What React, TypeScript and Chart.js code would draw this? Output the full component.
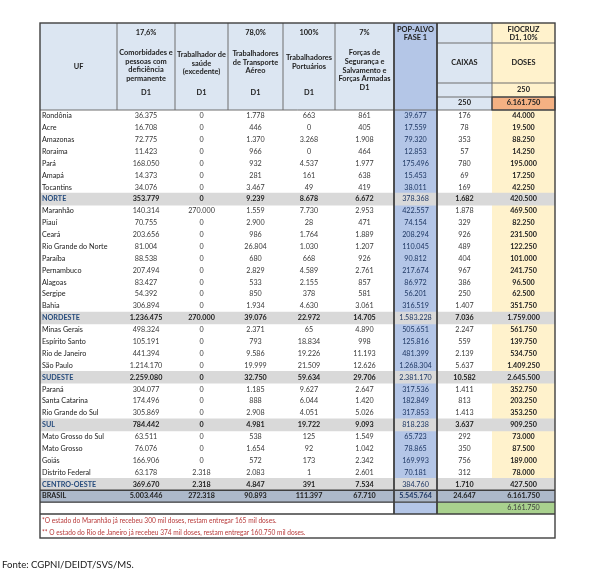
import React, { useEffect, useRef } from 'react';
import { Chart, registerables } from 'chart.js';

Chart.register(...registerables);

// ---------- DATA ----------
const ufLabels = [
  'Rondônia', 'Acre', 'Amazonas', 'Roraima', 'Pará', 'Amapá', 'Tocantins', 'NORTE',
  'Maranhão', 'Piauí', 'Ceará', 'Rio Grande do Norte', 'Paraíba', 'Pernambuco', 'Alagoas', 'Sergipe', 'Bahia', 'NORDESTE',
  'Minas Gerais', 'Espírito Santo', 'Rio de Janeiro', 'São Paulo', 'SUDESTE',
  'Paraná', 'Santa Catarina', 'Rio Grande do Sul', 'SUL',
  'Mato Grosso do Sul', 'Mato Grosso', 'Goiás', 'Distrito Federal', 'CENTRO-OESTE',
  'BRASIL',
];
const comorbidades = [
  36375, 16708, 72775, 11423, 168050, 14373, 34076, 353779,
  140314, 70755, 203656, 81004, 88538, 207494, 83427, 54392, 306894, 1236475,
  498324, 105191, 441394, 1214170, 2259080,
  304077, 174496, 305869, 784442,
  63511, 76076, 166906, 63178, 369670,
  5003446,
];
const trabSaude = [
  0, 0, 0, 0, 0, 0, 0, 0,
  270000, 0, 0, 0, 0, 0, 0, 0, 0, 270000,
  0, 0, 0, 0, 0,
  0, 0, 0, 0,
  0, 0, 0, 2318, 2318,
  272318,
];
const transpAereo = [
  1778, 446, 1370, 966, 932, 281, 3467, 9239,
  1559, 2900, 986, 26804, 680, 2829, 533, 850, 1934, 39076,
  2371, 793, 9586, 19999, 32750,
  1185, 888, 2908, 4981,
  538, 1654, 572, 2083, 4847,
  90893,
];
const portuarios = [
  663, 0, 3268, 0, 4537, 161, 49, 8678,
  7730, 28, 1764, 1030, 668, 4589, 2155, 378, 4630, 22972,
  65, 18834, 19226, 21509, 59634,
  9627, 6044, 4051, 19722,
  125, 92, 173, 1, 391,
  111397,
];
const forcas = [
  861, 405, 1908, 464, 1977, 638, 419, 6672,
  2953, 471, 1889, 1207, 926, 2761, 857, 581, 3061, 14705,
  4890, 998, 11193, 12626, 29706,
  2647, 1420, 5026, 9093,
  1549, 1042, 2342, 2601, 7534,
  67710,
];
const popAlvo = [
  39677, 17559, 79320, 12853, 175496, 15453, 38011, 378368,
  422557, 74154, 208294, 110045, 90812, 217674, 86972, 56201, 316519, 1583228,
  505651, 125816, 481399, 1268304, 2381170,
  317536, 182849, 317853, 818238,
  65723, 78865, 169993, 70181, 384760,
  5545764,
];
const caixas = [
  176, 78, 353, 57, 780, 69, 169, 1682,
  1878, 329, 926, 489, 404, 967, 386, 250, 1407, 7036,
  2247, 559, 2139, 5637, 10582,
  1411, 813, 1413, 3637,
  292, 350, 756, 312, 1710,
  24647,
];
const doses = [
  44000, 19500, 88250, 14250, 195000, 17250, 42250, 420500,
  469500, 82250, 231500, 122250, 101000, 241750, 96500, 62500, 351750, 1759000,
  561750, 139750, 534750, 1409250, 2645500,
  352750, 203250, 353250, 909250,
  73000, 87500, 189000, 78000, 427500,
  6161750,
];
const regionRows = ['NORTE', 'NORDESTE', 'SUDESTE', 'SUL', 'CENTRO-OESTE'];
const totalRow = 'BRASIL';
const totalDosesCheck = 6161750;
const dosesPerBox = 250;
const headerTotalDoses = 6161750;

const colPercents = ['', '17,6%', '', '78,0%', '100%', '7%'];
const colTitles = [
  ['UF'],
  ['Comorbidades e', 'pessoas com', 'deficiência', 'permanente'],
  ['Trabalhador de', 'saúde', '(excedente)'],
  ['Trabalhadores', 'de Transporte', 'Aéreo'],
  ['Trabalhadores', 'Portuários'],
  ['Forças de', 'Segurança e', 'Salvamento e', 'Forças Armadas'],
];
const doseLabel = 'D1';
const popTitle = ['POP-ALVO', 'FASE 1'];
const fiocruzTitle = ['FIOCRUZ', 'D1, 10%'];
const caixasTitle = 'CAIXAS';
const dosesTitle = 'DOSES';
const notes = [
  '*O estado do Maranhão já recebeu 300 mil doses, restam entregar 165 mil doses.',
  '** O estado do Rio de Janeiro já recebeu 374 mil doses, restam entregar 160.750 mil doses.',
];
const sourceText = 'Fonte: CGPNI/DEIDT/SVS/MS.';

// ---------- LAYOUT / STYLE ----------
const COL_W = [77, 58, 53, 55, 52, 59, 43, 55, 63];
const TOTAL_W = COL_W.reduce((a, b) => a + b, 0);
const COL_EDGES = COL_W.reduce((acc, w) => { acc.push(acc[acc.length - 1] + w); return acc; }, [0] as number[]);
const HEADER_H = 87;
const FONT = 'Lato, "DejaVu Sans", sans-serif';
const C = {
  hdrBlue: '#dce6f2',
  pop: '#b4c6e7',
  cream: '#fff2cc',
  orange: '#f4b183',
  green: '#a9d18e',
  gray: '#d9d9d9',
  brasil: '#adb9ca',
  text: '#3a3a3a',
  dark: '#222222',
  popText: '#1f3864',
  region: '#264b7c',
  note: '#b83a3a',
  border: '#3f3f3f',
  thin: '#6e6e6e',
};

const fmt = (n: number) => String(n).replace(/\B(?=(\d{3})+(?!\d))/g, '.');

const rowLabels = [...ufLabels, ''];
const NROWS = rowLabels.length;

function txt(ctx: CanvasRenderingContext2D, s: string, x: number, y: number, font: string, color: string, align: CanvasTextAlign = 'center') {
  ctx.font = font;
  ctx.fillStyle = color;
  ctx.textAlign = align;
  ctx.textBaseline = 'middle';
  ctx.fillText(s, x, y);
}
function hline(ctx: CanvasRenderingContext2D, x1: number, x2: number, y: number, color: string, w: number) {
  ctx.strokeStyle = color; ctx.lineWidth = w;
  ctx.beginPath(); ctx.moveTo(x1, y); ctx.lineTo(x2, y); ctx.stroke();
}
function vline(ctx: CanvasRenderingContext2D, x: number, y1: number, y2: number, color: string, w: number) {
  ctx.strokeStyle = color; ctx.lineWidth = w;
  ctx.beginPath(); ctx.moveTo(x, y1); ctx.lineTo(x, y2); ctx.stroke();
}

const tablePlugin = {
  id: 'tablePlugin',
  beforeDatasetsDraw(chart: any) {
    const ctx: CanvasRenderingContext2D = chart.ctx;
    const xs = chart.scales.x;
    const { top, bottom } = chart.chartArea;
    const E = COL_EDGES.map((e) => xs.getPixelForValue(e));
    const hTop = top - HEADER_H;
    ctx.save();
    ctx.fillStyle = C.hdrBlue;
    ctx.fillRect(E[0], hTop, E[8] - E[0], HEADER_H);
    ctx.fillStyle = C.cream;
    ctx.fillRect(E[8], hTop, E[9] - E[8], HEADER_H);
    ctx.fillStyle = C.orange;
    ctx.fillRect(E[8], hTop + 74, E[9] - E[8], HEADER_H - 74);
    ctx.fillStyle = C.pop;
    ctx.fillRect(E[6], hTop, E[7] - E[6], bottom - hTop);
    ctx.fillStyle = C.cream;
    ctx.fillRect(E[8], top, E[9] - E[8], bottom - top);
    ctx.restore();
  },
  afterDatasetsDraw(chart: any) {
    const ctx: CanvasRenderingContext2D = chart.ctx;
    const xs = chart.scales.x;
    const ys = chart.scales.y;
    const { top, bottom } = chart.chartArea;
    const E = COL_EDGES.map((e) => xs.getPixelForValue(e));
    const mid = (i: number) => (E[i] + E[i + 1]) / 2;
    const hTop = top - HEADER_H;
    ctx.save();

    // ---- header lines ----
    for (let i = 1; i < 9; i++) {
      if (i === 6 || i === 7) continue;
      vline(ctx, E[i], hTop, top, C.thin, 1);
    }
    hline(ctx, E[7], E[9], hTop + 20, C.thin, 1);
    hline(ctx, E[7], E[9], hTop + 60, C.thin, 1);
    hline(ctx, E[7], E[9], hTop + 74, C.thin, 1);
    hline(ctx, E[0], E[9], top, C.thin, 1);
    ctx.strokeStyle = C.border; ctx.lineWidth = 1.2;
    ctx.strokeRect(E[8], hTop + 74, E[9] - E[8], HEADER_H - 74);

    // ---- header text ----
    const hb = `bold 7.4px ${FONT}`;
    txt(ctx, colTitles[0][0], mid(0), hTop + 44, hb, C.dark);
    const titleY: number[][] = [[], [30, 38.5, 47, 55.5], [32, 40.5, 49], [31, 39.5, 48], [35, 44], [30, 39, 47.5, 56]];
    for (let c = 1; c <= 5; c++) {
      if (colPercents[c]) txt(ctx, colPercents[c], mid(c), hTop + 10, hb, C.dark);
      colTitles[c].forEach((t, k) => txt(ctx, t, mid(c), hTop + titleY[c][k], hb, C.dark));
      txt(ctx, doseLabel, mid(c), hTop + (c === 5 ? 64.5 : 70), hb, C.dark);
    }
    txt(ctx, popTitle[0], mid(6), hTop + 6.5, hb, C.dark);
    txt(ctx, popTitle[1], mid(6), hTop + 14.5, hb, C.dark);
    txt(ctx, fiocruzTitle[0], mid(8), hTop + 6.5, hb, C.dark);
    txt(ctx, fiocruzTitle[1], mid(8), hTop + 14.5, hb, C.dark);
    txt(ctx, caixasTitle, mid(7), hTop + 40, hb, C.dark);
    txt(ctx, dosesTitle, mid(8), hTop + 40, hb, C.dark);
    txt(ctx, String(dosesPerBox), mid(8), hTop + 67, hb, C.dark);
    txt(ctx, String(dosesPerBox), mid(7), hTop + 80, hb, C.dark);
    txt(ctx, fmt(headerTotalDoses), mid(8), hTop + 80, hb, C.dark);

    // ---- body ----
    const cols = [comorbidades, trabSaude, transpAereo, portuarios, forcas, popAlvo, caixas, doses];
    const reg = `7.2px ${FONT}`;
    const bold = `bold 7.2px ${FONT}`;
    ufLabels.forEach((label, i) => {
      const y = ys.getPixelForValue(i);
      const isReg = regionRows.includes(label);
      const isTot = label === totalRow;
      txt(ctx, label, E[0] + 2, y, isReg || isTot ? bold : reg, isReg ? C.region : C.dark, 'left');
      cols.forEach((arr, c) => {
        const col = c + 1;
        let font = reg;
        let color = C.text;
        if (col === 6) { color = C.popText; font = isTot ? bold : reg; }
        else if (col === 8) { font = bold; color = C.dark; }
        else if (isReg || isTot) { font = bold; color = C.dark; }
        txt(ctx, fmt(arr[i]), mid(col), y, font, color);
      });
    });
    const yLast = ys.getPixelForValue(NROWS - 1);
    txt(ctx, fmt(totalDosesCheck), mid(8), yLast, `7.2px ${FONT}`, C.text);

    // ---- body lines ----
    const rowTop = (i: number) => ys.getPixelForValue(i - 0.5);
    const iTot = ufLabels.indexOf(totalRow);
    hline(ctx, E[0], E[9], rowTop(iTot), C.border, 1.4);
    hline(ctx, E[0], E[9], rowTop(iTot + 1), C.border, 1.4);
    hline(ctx, E[0], E[9], bottom, C.border, 1.4);
    vline(ctx, E[6], hTop, bottom, C.border, 1.8);
    vline(ctx, E[7], hTop, bottom, C.border, 1.8);

    // ---- notes ----
    const nf = `6.6px ${FONT}`;
    txt(ctx, notes[0], E[0] + 2, bottom + 7, nf, C.note, 'left');
    txt(ctx, notes[1], E[0] + 2, bottom + 19, nf, C.note, 'left');

    ctx.strokeStyle = C.border; ctx.lineWidth = 1.4;
    ctx.strokeRect(E[0], hTop, E[9] - E[0], bottom + 24 - hTop);

    txt(ctx, sourceText, 2, bottom + 51, `9.6px ${FONT}`, '#1a1a1a', 'left');
    ctx.restore();
  },
};

export default function App() {
  const ref = useRef<HTMLCanvasElement | null>(null);
  useEffect(() => {
    if (!ref.current) return;
    const bandData = rowLabels.map((l) => (regionRows.includes(l) || l === totalRow ? [0, TOTAL_W] : null));
    const bandColors = rowLabels.map((l) => (l === totalRow ? C.brasil : C.gray));
    const greenData = rowLabels.map((_, i) => (i === NROWS - 1 ? [COL_EDGES[7], TOTAL_W] : null));
    const chart = new Chart(ref.current, {
      type: 'bar',
      data: {
        labels: rowLabels,
        datasets: [
          { data: bandData as any, backgroundColor: bandColors, borderWidth: 0, barPercentage: 1, categoryPercentage: 1, grouped: false } as any,
          { data: greenData as any, backgroundColor: C.green, borderWidth: 0, barPercentage: 1, categoryPercentage: 1, grouped: false } as any,
        ],
      },
      options: {
        indexAxis: 'y',
        animation: false,
        responsive: false,
        devicePixelRatio: 1,
        layout: { padding: { left: 40, right: 56, top: 110, bottom: 68 } },
        plugins: { legend: { display: false }, tooltip: { enabled: false }, title: { display: false } },
        scales: {
          x: { type: 'linear', min: 0, max: TOTAL_W, display: false },
          y: { type: 'category', display: false, offset: true },
        },
        events: [],
      },
      plugins: [tablePlugin],
    });
    return () => chart.destroy();
  }, []);
  return (
    <div style={{ position: 'absolute', left: 0, top: 0, width: 611, height: 582, background: '#ffffff' }}>
      <canvas ref={ref} width={611} height={582} style={{ display: 'block' }} />
    </div>
  );
}
